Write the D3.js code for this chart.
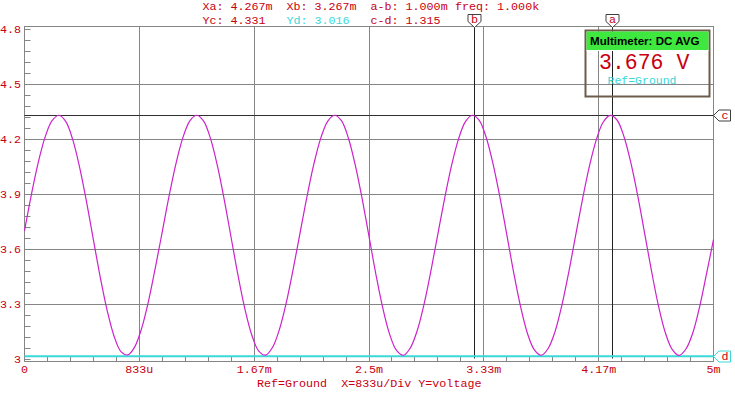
<!DOCTYPE html>
<html>
<head>
<meta charset="utf-8">
<script src="https://cdn.jsdelivr.net/npm/d3@7"></script>
<style>
  body { margin: 0; background: #fff; }
  svg { display: block; }
  text { font-family: "Liberation Mono", "DejaVu Sans Mono", monospace; font-size: 11.7px; }
</style>
</head>
<body>
<svg id="chart" width="735" height="393"></svg>
<script>
// time is in ms, voltage in V
var xTickValues = [0, 0.8333, 1.6667, 2.5, 3.3333, 4.1667, 5];
var xTickLabels = ["0", "833u", "1.67m", "2.5m", "3.33m", "4.17m", "5m"];
var yTickValues = [3, 3.3, 3.6, 3.9, 4.2, 4.5, 4.8];
var yTickLabels = ["3", "3.3", "3.6", "3.9", "4.2", "4.5", "4.8"];

var sampleStep = 0.05; // ms between samples
var voltage = [
  3.700, 3.898, 4.074, 4.213, 4.301, 4.331, 4.296, 4.198, 4.047, 3.859,
  3.651, 3.446, 3.265, 3.125, 3.041, 3.023, 3.067, 3.168, 3.317, 3.501,
  3.696, 3.893, 4.070, 4.210, 4.300, 4.331, 4.299, 4.203, 4.054, 3.868,
  3.661, 3.455, 3.272, 3.130, 3.044, 3.022, 3.064, 3.162, 3.309, 3.492,
  3.690, 3.887, 4.065, 4.206, 4.298, 4.331, 4.301, 4.207, 4.060, 3.876,
  3.670, 3.463, 3.279, 3.135, 3.047, 3.021, 3.061, 3.156, 3.302, 3.484,
  3.684, 3.881, 4.060, 4.202, 4.296, 4.331, 4.303, 4.211, 4.066, 3.884,
  3.679, 3.472, 3.286, 3.140, 3.050, 3.021, 3.058, 3.150, 3.295, 3.476,
  3.677, 3.875, 4.055, 4.198, 4.294, 4.330, 4.305, 4.215, 4.072, 3.892,
  3.688, 3.481, 3.293, 3.145, 3.053, 3.020, 3.055, 3.144, 3.288, 3.468,
  3.652
];

var cursorX = [{ id: "a", t: 4.267 }, { id: "b", t: 3.267 }];
var cursorY = [{ id: "c", v: 4.331 }, { id: "d", v: 3.016 }];

var meterTitle = "Multimeter: DC AVG";
var meterValue = "3.676 V";
var meterRef = "Ref=Ground";
var axisTitle = "Ref=Ground  X=833u/Div Y=voltage";

var RED = "#c80010", CYAN = "#3cd8d8", GRID = "#858585", WAVE = "#cc22cc";

var svg = d3.select("#chart");
var x = d3.scaleLinear().domain([0, 5]).range([24.5, 713.5]);
var y = d3.scaleLinear().domain([3, 4.8]).range([359.1, 29.3]);
var frameTop = 26, frameBottom = 361.5;
var px = function (v) { return Math.round(v - 0.5) + 0.5; };

var points = voltage.map(function (v, i) { return { t: i * sampleStep, v: v }; });

// grid
var grid = svg.append("g").attr("stroke", GRID).attr("stroke-width", 1);
grid.selectAll("line.vx").data(xTickValues).enter().append("line")
  .attr("x1", function (d) { return px(x(d)); }).attr("x2", function (d) { return px(x(d)); })
  .attr("y1", frameTop).attr("y2", frameBottom);
grid.selectAll("line.hy").data(yTickValues.slice(1, -1)).enter().append("line")
  .attr("x1", x(0)).attr("x2", x(5))
  .attr("y1", function (d) { return px(y(d)); }).attr("y2", function (d) { return px(y(d)); });
grid.append("line").attr("x1", x(0)).attr("x2", x(5)).attr("y1", frameTop + 0.5).attr("y2", frameTop + 0.5);
grid.append("line").attr("x1", x(0)).attr("x2", x(5)).attr("y1", frameBottom).attr("y2", frameBottom);

// minor ticks, five per division
var xMinor = d3.range(0, 31).map(function (i) { return i * 5 / 30; });
grid.selectAll("line.mx").data(xMinor).enter().append("line")
  .attr("x1", function (d) { return px(x(d)); }).attr("x2", function (d) { return px(x(d)); })
  .attr("y1", frameBottom - 5).attr("y2", frameBottom);
var yMinor = d3.range(0, 31).map(function (i) { return 3 + i * 0.06; });
grid.selectAll("line.my").data(yMinor).enter().append("line")
  .attr("x1", x(0)).attr("x2", x(0) + 6)
  .attr("y1", function (d) { return px(y(d)); }).attr("y2", function (d) { return px(y(d)); });

// axis labels
svg.append("g").selectAll("text").data(yTickValues).enter().append("text")
  .attr("x", 21).attr("y", function (d) { return y(d); }).attr("dy", "0.35em")
  .attr("text-anchor", "end").attr("fill", RED)
  .text(function (d, i) { return yTickLabels[i]; });
svg.append("g").selectAll("text").data(xTickValues).enter().append("text")
  .attr("x", function (d) { return x(d); }).attr("y", 373)
  .attr("text-anchor", "middle").attr("fill", RED)
  .text(function (d, i) { return xTickLabels[i]; });
svg.append("text").attr("x", 257).attr("y", 386.5).attr("fill", RED)
  .attr("xml:space", "preserve").style("white-space", "pre").text(axisTitle);

// cursors
svg.selectAll("line.cx").data(cursorX).enter().append("line")
  .attr("x1", function (d) { return px(x(d.t)); }).attr("x2", function (d) { return px(x(d.t)); })
  .attr("y1", frameTop).attr("y2", frameBottom - 3)
  .attr("stroke", "#202020").attr("stroke-width", 1);
svg.selectAll("line.cy").data(cursorY).enter().append("line")
  .attr("x1", x(0)).attr("x2", x(5))
  .attr("y1", function (d) { return d.id === "d" ? y(d.v) : px(y(d.v)); })
  .attr("y2", function (d) { return d.id === "d" ? y(d.v) : px(y(d.v)); })
  .attr("stroke", function (d) { return d.id === "d" ? CYAN : "#303030"; })
  .attr("stroke-width", function (d) { return d.id === "d" ? 2 : 1; });

// waveform
var line = d3.line().x(function (d) { return x(d.t); }).y(function (d) { return y(d.v); })
  .curve(d3.curveCatmullRom);
svg.append("path").datum(points).attr("d", line)
  .attr("fill", "none").attr("stroke", WAVE).attr("stroke-width", 1.2);

// cursor tags on top
var topTags = svg.selectAll("g.tx").data(cursorX).enter().append("g")
  .attr("transform", function (d) { return "translate(" + px(x(d.t)) + ",0)"; });
topTags.append("path").attr("d", "M-6.5,14.5 H6.5 V21.5 L0,27.5 L-6.5,21.5 Z")
  .attr("fill", "#fff").attr("stroke", "#404040");
topTags.append("text").attr("x", 0).attr("y", 22.5).attr("text-anchor", "middle")
  .attr("fill", RED).text(function (d) { return d.id; });

// cursor tags on the right
var sideTags = svg.selectAll("g.ty").data(cursorY).enter().append("g")
  .attr("transform", function (d) { return "translate(713.5," + px(y(d.v)) + ")"; });
sideTags.append("path").attr("d", "M0,0 L5.5,-5.5 H17 V5.5 H5.5 Z")
  .attr("fill", "#fff").attr("stroke", function (d) { return d.id === "d" ? CYAN : "#404040"; });
sideTags.append("text").attr("x", 11.5).attr("y", 3.5).attr("text-anchor", "middle")
  .attr("fill", RED).text(function (d) { return d.id; });

// readout header
var dx = cursorX[0].t - cursorX[1].t, dy = cursorY[0].v - cursorY[1].v;
var row1 = [
  { s: "Xa: " + cursorX[0].t.toFixed(3) + "m", x: 202.5, c: RED },
  { s: "Xb: " + cursorX[1].t.toFixed(3) + "m", x: 286.5, c: RED },
  { s: "a-b: " + dx.toFixed(3) + "m", x: 370.5, c: RED },
  { s: "freq: " + (1 / dx).toFixed(3) + "k", x: 455, c: RED }
];
var row2 = [
  { s: "Yc: " + cursorY[0].v.toFixed(3), x: 202.5, c: RED },
  { s: "Yd: " + cursorY[1].v.toFixed(3), x: 286.5, c: CYAN },
  { s: "c-d: " + dy.toFixed(3), x: 370.5, c: RED }
];
svg.selectAll("text.r1").data(row1).enter().append("text")
  .attr("x", function (d) { return d.x; }).attr("y", 10)
  .attr("fill", function (d) { return d.c; }).text(function (d) { return d.s; });
svg.selectAll("text.r2").data(row2).enter().append("text")
  .attr("x", function (d) { return d.x; }).attr("y", 23.5)
  .attr("fill", function (d) { return d.c; }).text(function (d) { return d.s; });

// multimeter box
var meter = svg.append("g").attr("transform", "translate(585,30)");
meter.append("rect").attr("x", 0.5).attr("y", 0.5).attr("width", 124).attr("height", 66)
  .attr("fill", "none").attr("stroke", "#6e5c4a").attr("stroke-width", 2);
meter.append("rect").attr("x", 1.5).attr("y", 1.5).attr("width", 122).attr("height", 18.5)
  .attr("fill", "#3ee83e");
meter.append("line").attr("x1", 1.5).attr("x2", 123.5).attr("y1", 20.5).attr("y2", 20.5)
  .attr("stroke", "#ffffff");
meter.append("text").attr("x", 5).attr("y", 15).style("font-family", "'Liberation Sans', Arial, sans-serif")
  .style("font-size", "11.6px").style("font-weight", "bold").attr("fill", "#000").text(meterTitle);
meter.append("text").attr("x", 14).attr("y", 38.5).style("font-size", "21.5px")
  .attr("fill", RED).text(meterValue);
meter.append("text").attr("x", 22.5).attr("y", 54).style("font-size", "11.5px")
  .attr("fill", CYAN).text(meterRef);
</script>
</body>
</html>
